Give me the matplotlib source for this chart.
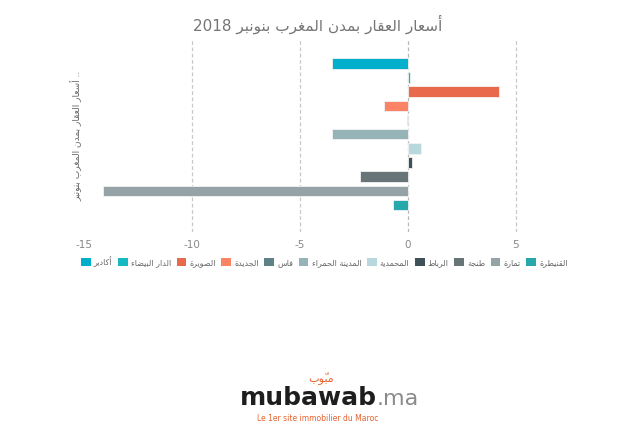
import re
import matplotlib
matplotlib.use("Agg")
import matplotlib.pyplot as plt
from matplotlib.patches import Patch

# ================= DATA =================
cities = ["أكادير", "الدار البيضاء", "الصويرة", "الجديدة", "فاس", "المدينة الحمراء",
          "المحمدية", "الرباط", "طنجة", "تمارة", "القنيطرة"]
values = [-3.5, 0.1, 4.2, -1.1, -0.05, -3.5, 0.6, 0.2, -2.2, -14.1, -0.7]
colors = ["#00afcb", "#17b9c1", "#e8694b", "#fb8466", "#5e8187", "#96b3b8",
          "#b9d8dd", "#3e5159", "#677578", "#96a3a6", "#27a9ab"]
xticks = [-15, -10, -5, 0, 5]

TITLE = "أسعار العقار بمدن المغرب بنونبر 2018"
YLABEL = "أسعار العقار بمدن المغرب بنونبر"


# ================= ARABIC SHAPING =================
LETTERS = "ءآأؤإئابةتثجحخدذرزسشصضطظعغفقكلمنهوىي"
RIGHT_ONLY = set("آأؤإاةدذرزوى")
FORMS = {}
code = 0xFE80
for ch in LETTERS:
    n = 1 if ch == "ء" else (2 if ch in RIGHT_ONLY else 4)
    FORMS[ch] = (code, n)
    code += n


def is_mark(c):
    return 0x064B <= ord(c) <= 0x0652


def rtl(s):
    chars = list(s)
    clusters = []
    for i, ch in enumerate(chars):
        if is_mark(ch):
            if clusters:
                clusters[-1] += ch
            continue
        if ch not in FORMS:
            clusters.append(ch)
            continue
        j = i - 1
        while j >= 0 and is_mark(chars[j]):
            j -= 1
        k = i + 1
        while k < len(chars) and is_mark(chars[k]):
            k += 1
        prev = chars[j] if j >= 0 else None
        nxt = chars[k] if k < len(chars) else None
        base, n = FORMS[ch]
        jp = n >= 2 and prev in FORMS and FORMS[prev][1] == 4
        jn = n == 4 and nxt in FORMS and FORMS[nxt][1] >= 2
        if jp and jn:
            off = 3
        elif jp:
            off = 1
        elif jn:
            off = 2
        else:
            off = 0
        clusters.append(chr(base + off))
    out = "".join(clusters[::-1])
    return re.sub(r"[0-9A-Za-z.]+", lambda m: m.group()[::-1], out)


# ================= FIGURE =================
plt.rcParams["font.family"] = ["DejaVu Sans"]
fig = plt.figure(figsize=(6.36, 4.30), dpi=100)
ax = fig.add_axes([0.132, 0.4605, 0.747, 0.4487])

for i, (v, c) in enumerate(zip(values, colors)):
    ax.barh(i, v, height=0.74, color=c, edgecolor="#f2f2f2", linewidth=0.6)

ax.set_xlim(-15, 7)
ax.set_ylim(10 + 1.9, -1.71)
ax.set_xticks(xticks)
ax.set_xticklabels([str(t) for t in xticks])
ax.set_yticks([])
for t in xticks:
    if t == -15:
        continue
    ax.axvline(t, color="#c8c8c8" if t else "#b8b8b8", lw=0.9,
               ls=(0, (3, 2)), zorder=0)
for s in ax.spines.values():
    s.set_visible(False)
ax.tick_params(axis="x", length=0, pad=6, labelsize=7.5, labelcolor="#888888")

ax.set_ylabel(rtl(YLABEL) + " ..", fontsize=6.5, color="#666666", labelpad=1)

fig.text(0.5, 0.944, rtl(TITLE), ha="center", va="center",
         fontsize=11, color="#757575")

# ================= LEGEND =================
handles = [Patch(facecolor=c, edgecolor="none") for c in colors]
fig.legend(handles, [rtl(c) for c in cities], loc="center", ncol=11,
           bbox_to_anchor=(0.51, 0.392), frameon=False, fontsize=5.8,
           handlelength=1.2, handleheight=1.2, handletextpad=0.4,
           columnspacing=0.68, labelcolor="#666666")

# ================= LOGO =================
fig.text(0.377, 0.058, "mubawab", fontsize=18, fontweight="bold",
         color="#1e1e1e", ha="left", va="baseline")
fig.text(0.592, 0.058, ".ma", fontsize=16, color="#8a8a8a",
         ha="left", va="baseline")
fig.text(0.505, 0.115, rtl("مبوّب"), fontsize=8, color="#e8602c",
         ha="center", va="baseline")
fig.text(0.5, 0.022, "Le 1er site immobilier du Maroc", fontsize=5.5,
         color="#e8602c", ha="center", va="baseline")

fig.savefig("out.png", dpi=100)
